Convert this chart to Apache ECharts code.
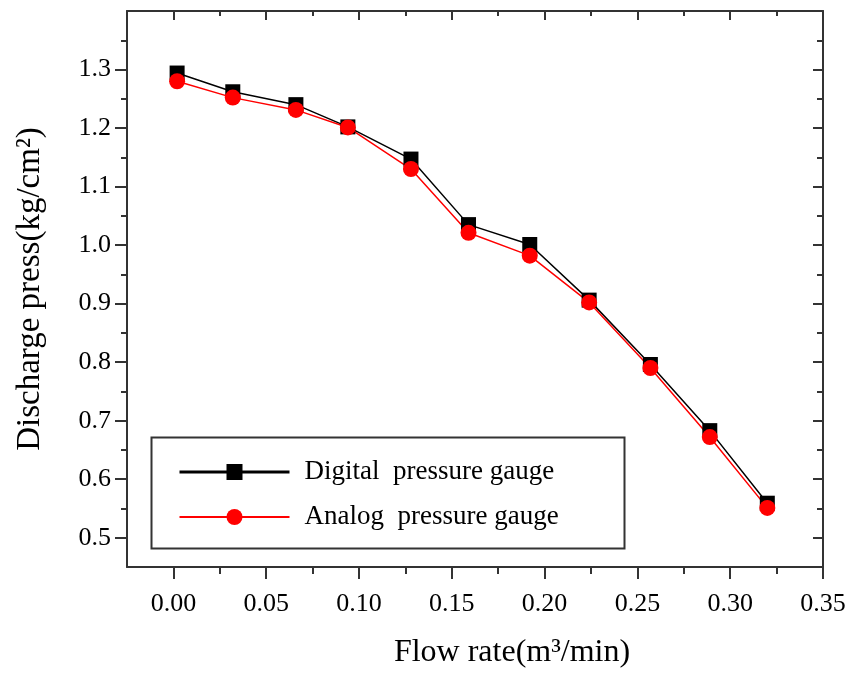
<!DOCTYPE html>
<html><head><meta charset="utf-8">
<script src="https://cdn.jsdelivr.net/npm/echarts@6/dist/echarts.min.js"></script>
<style>html,body{margin:0;padding:0;background:#fff}#c{width:849px;height:675px}</style>
</head><body><div id="c"></div>
<script>
// ---- data ----
const flowRate      = [0.002, 0.032, 0.066, 0.094, 0.128, 0.159, 0.192, 0.224, 0.257, 0.289, 0.320];
const digitalGauge  = [1.294, 1.262, 1.240, 1.202, 1.147, 1.035, 1.001, 0.906, 0.796, 0.683, 0.559];
const analogGauge   = [1.280, 1.252, 1.231, 1.201, 1.130, 1.021, 0.982, 0.902, 0.790, 0.672, 0.551];
const seriesNames   = ['Digital  pressure gauge', 'Analog  pressure gauge'];
const xTickLabels   = ['0.00','0.05','0.10','0.15','0.20','0.25','0.30','0.35'];
const xMinorTicks   = [0.025, 0.075, 0.125, 0.175, 0.225, 0.275, 0.325];
const yTickLabels   = ['0.5','0.6','0.7','0.8','0.9','1.0','1.1','1.2','1.3'];
const yMinorTicks   = [0.55, 0.65, 0.75, 0.85, 0.95, 1.05, 1.15, 1.25, 1.35];
const xTitle = 'Flow rate(m³/min)';
const yTitle = 'Discharge press(kg/cm²)';

const FONT = '"Liberation Serif","Times New Roman",serif';
const AX = '#333';
const X_MIN = -0.025, X_MAX = 0.35, Y_MIN = 0.45, Y_MAX = 1.4;
const xMajor = xTickLabels.map(parseFloat);
const yMajor = yTickLabels.map(parseFloat);

function axis(kind, pos, vals, len, inside, showLine, label) {
  const a = {
    type: 'value', position: pos,
    min: kind === 'x' ? X_MIN : Y_MIN, max: kind === 'x' ? X_MAX : Y_MAX,
    axisLine: { show: showLine, onZero: false, lineStyle: { color: AX, width: 2 } },
    axisTick: { show: true, inside: inside, length: len, customValues: vals, lineStyle: { color: AX, width: 2 } },
    axisLabel: { show: false },
    splitLine: { show: false }
  };
  if (label) Object.assign(a, label);
  return a;
}

const xAxes = [
  axis('x', 'bottom', xMajor, 12, false, true, {
    axisLabel: { show: true, customValues: xMajor, margin: 24, color: '#000', fontFamily: FONT, fontSize: 26,
                 formatter: v => v.toFixed(2) },
    name: xTitle, nameLocation: 'middle', nameGap: 70,
    nameTextStyle: { color: '#000', fontFamily: FONT, fontSize: 32, padding: [0, 0, 0, 74] }
  }),
  axis('x', 'bottom', xMinorTicks, 7, false, false),
  axis('x', 'top', xMajor, 9, true, true),
  axis('x', 'top', xMinorTicks, 5, true, false)
];
const yAxes = [
  axis('y', 'left', yMajor, 12, false, true, {
    axisLabel: { show: true, customValues: yMajor, margin: 16, color: '#000', fontFamily: FONT, fontSize: 26,
                 formatter: v => v.toFixed(1) },
    name: yTitle, nameLocation: 'middle', nameGap: 80,
    nameTextStyle: { color: '#000', fontFamily: FONT, fontSize: 33 }
  }),
  axis('y', 'left', yMinorTicks, 6, false, false),
  axis('y', 'right', yMajor, 10, true, true),
  axis('y', 'right', yMinorTicks, 6, true, false)
];

const chart = echarts.init(document.getElementById('c'), null, { renderer: 'canvas' });
chart.setOption({
  animation: false,
  backgroundColor: '#fff',
  grid: { left: 127, top: 11, width: 696, height: 556, containLabel: false },
  xAxis: xAxes,
  yAxis: yAxes,
  legend: {
    orient: 'vertical', left: 178, top: 457, padding: 0,
    itemWidth: 110, itemHeight: 20, itemGap: 15,
    textStyle: { color: '#000', fontFamily: FONT, fontSize: 27, lineHeight: 30, padding: [0, 0, 0, 10] },
    data: [
      { name: seriesNames[0], lineStyle: { width: 3, color: '#000' } },
      { name: seriesNames[1], lineStyle: { width: 2, color: '#ff0000' } }
    ]
  },
  graphic: [{
    type: 'rect', left: 149, top: 435, silent: true,
    shape: { width: 473, height: 111 },
    style: { fill: 'none', stroke: AX, lineWidth: 2 }
  }],
  series: [
    {
      name: seriesNames[0], type: 'line',
      data: flowRate.map((x, i) => [x, digitalGauge[i]]),
      symbol: 'rect', symbolSize: 15,
      lineStyle: { color: '#000', width: 1.5 },
      itemStyle: { color: '#000' }
    },
    {
      name: seriesNames[1], type: 'line',
      data: flowRate.map((x, i) => [x, analogGauge[i]]),
      symbol: 'circle', symbolSize: 16,
      lineStyle: { color: '#ff0000', width: 1.5 },
      itemStyle: { color: '#ff0000' }
    }
  ]
});
</script>
</body></html>
